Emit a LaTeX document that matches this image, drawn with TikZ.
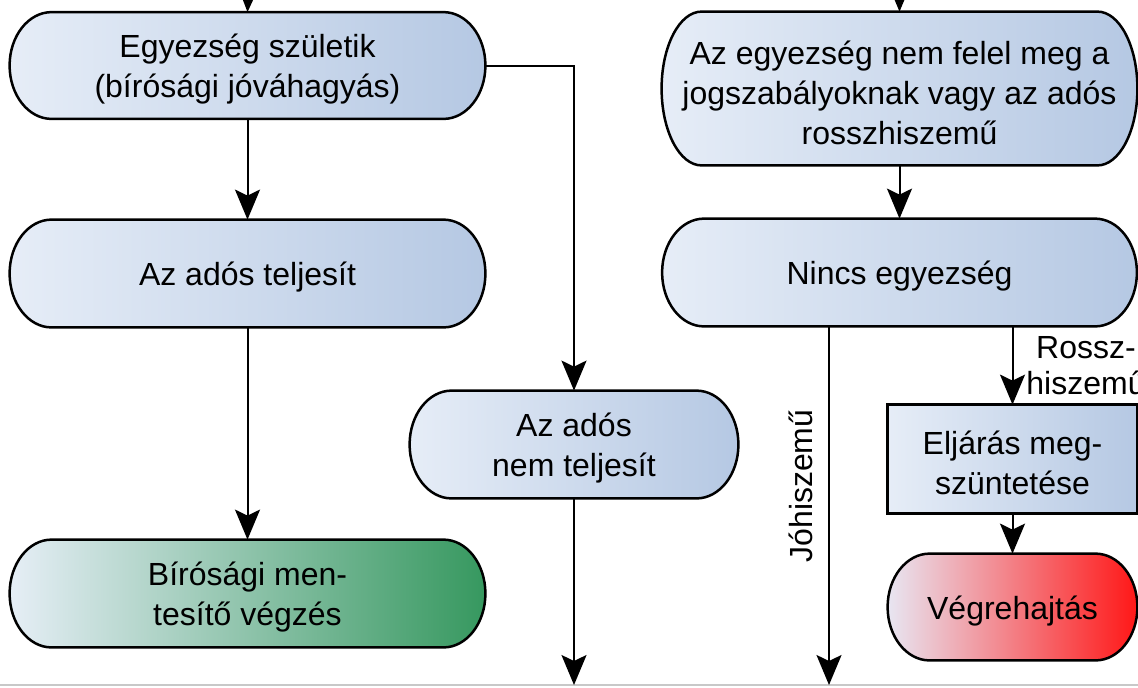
\documentclass[tikz,border=0pt]{standalone}
\usepackage{fontspec}
\setmainfont{Liberation Sans}
\usetikzlibrary{arrows.meta,backgrounds,calc}
\definecolor{bl}{HTML}{E6EDF7}
\definecolor{br}{HTML}{B5C8E3}
\definecolor{gl}{HTML}{E6EEF6}
\definecolor{gr}{HTML}{36985F}
\definecolor{rl}{HTML}{E8E6F2}
\definecolor{rr}{HTML}{FF1717}
\definecolor{lgray}{HTML}{C8C8C8}
\tikzset{
  box/.style={rectangle, inner sep=0pt},
  txt/.style={inner sep=0pt, align=center, font=\fontsize{16}{20}\selectfont, text=black},
  conn/.style={line width=1pt, -{Stealth[length=15pt,width=12.5pt,inset=3pt]}},
  lbl/.style={inner sep=0pt, align=center, font=\fontsize{16}{18}\selectfont},
  outline/.style={draw=black, line width=1.25pt},
}
\newcommand\stadium[4]{%
  \path[outline, left color=#3, right color=#4]
    let \p1=(#1.south west), \p2=(#1.north east), \n1={(\y2-\y1)/2} in
    (\x1+#2,\y1) -- (\x2-#2,\y1)
    arc[start angle=-90, end angle=90, x radius=#2, y radius=\n1]
    -- (\x1+#2,\y2)
    arc[start angle=90, end angle=270, x radius=#2, y radius=\n1]
    -- cycle;}
\newcommand\boxtext[2]{\node[txt] (t#1) at ([yshift=-2pt]#1.center) {#2};}
\begin{document}
\begin{tikzpicture}[x=0.5pt, y=-0.5pt]
\useasboundingbox (0,0) rectangle (1138,687);
% box nodes
\node[box, minimum width=237.5pt, minimum height=53pt] (b1) at (247.5,65.5) {};
\node[box, minimum width=237.5pt, minimum height=53.5pt] (b2) at (247.5,273.5) {};
\node[box, minimum width=237.5pt, minimum height=53.5pt] (b3) at (247.5,593.5) {};
\node[box, minimum width=164pt, minimum height=53.5pt] (b4) at (574,444.5) {};
\node[box, minimum width=237.5pt, minimum height=76.5pt] (b5) at (899.5,88.5) {};
\node[box, minimum width=237pt, minimum height=53.5pt] (b6) at (899.5,272.5) {};
\node[box, minimum width=124.5pt, minimum height=54pt] (b7) at (1012.5,459) {};
\node[box, minimum width=124.5pt, minimum height=53pt] (b8) at (1012.5,607) {};
% shapes
\begin{scope}[on background layer]
  \stadium{b1}{21pt}{bl}{br}
  \stadium{b2}{21pt}{bl}{br}
  \stadium{b3}{21pt}{gl}{gr}
  \stadium{b4}{21pt}{bl}{br}
  \stadium{b5}{20pt}{bl}{br}
  \stadium{b6}{21pt}{bl}{br}
  \stadium{b8}{21pt}{rl}{rr}
  \path[outline, left color=bl, right color=br] (b7.south west) rectangle (b7.north east);
\end{scope}
% texts
\boxtext{b1}{Egyezség születik\\(bírósági jóváhagyás)}
\boxtext{b2}{Az adós teljesít}
\boxtext{b3}{Bírósági men-\\tesítő végzés}
\boxtext{b4}{Az adós\\nem teljesít}
\boxtext{b5}{Az egyezség nem felel meg a\\jogszabályoknak vagy az adós\\rosszhiszemű}
\boxtext{b6}{Nincs egyezség}
\boxtext{b7}{Eljárás meg-\\szüntetése}
\boxtext{b8}{Végrehajtás}
% free ends
\coordinate (in1) at (248,-2);
\coordinate (in2) at (899.5,-2);
\coordinate (out1) at (574,685);
\coordinate (out2) at (829,685);
\coordinate (gl1) at (0,685);
\coordinate (gl2) at (1138,685);
\draw[lgray, line width=1pt] (gl1) -- (gl2);
% connectors
\draw[conn] (in1) -- (b1.north);
\draw[conn] (in2) -- (b5.north);
\draw[conn] (b1) -- (b2);
\draw[conn] (b2) -- (b3);
\draw[conn] (b1.east) -| (b4.north);
\draw[conn] (b4.south) -- (out1);
\draw[conn] (b5) -- (b6);
\draw[conn] (out2 |- b6.south) -- (out2);
\node[lbl, rotate=90] (lj) at (801,486) {Jóhiszemű};
\draw[conn] (b7.north |- b6.south) -- (b7.north);
\draw[conn] (b7) -- (b8);
\node[lbl] (lr) at (1086,366) {Rossz-\\hiszemű};
\end{tikzpicture}
\end{document}
